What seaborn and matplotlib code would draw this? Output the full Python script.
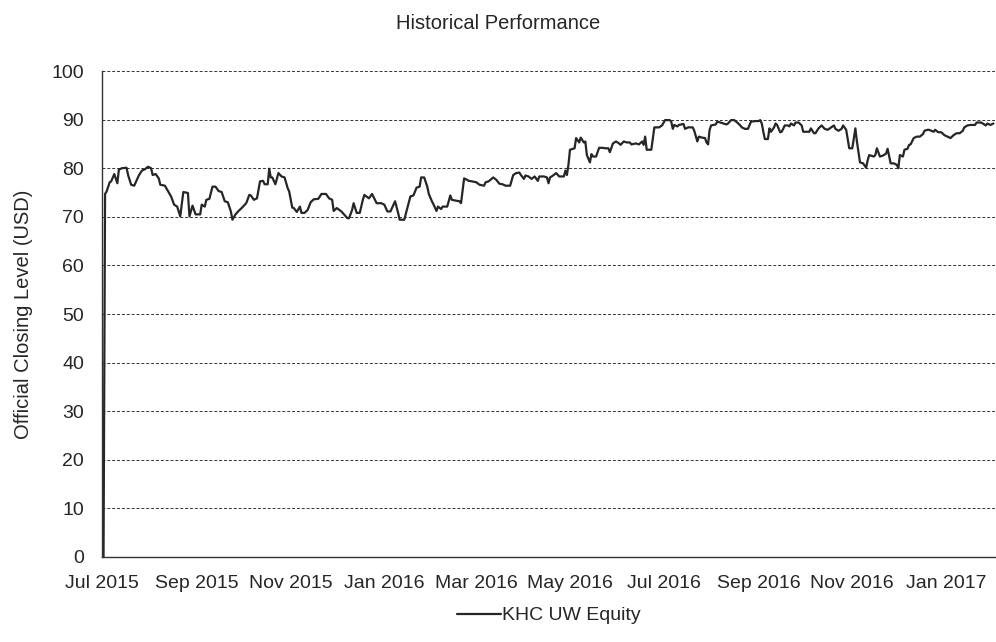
import pandas as pd
import seaborn as sns
import matplotlib.pyplot as plt
import matplotlib.dates as mdates

# days counted from 1 Jul 2015
start_date = "2015-07-01"
day_offsets = [
    1, 2, 3, 5, 6, 8, 10, 11, 13, 16, 17, 19, 21, 23, 24, 26, 28, 30, 32, 33,
    35, 37, 38, 41, 43, 45, 47, 49, 51, 53, 56, 57, 59, 61, 64, 65, 67, 68, 70, 72,
    74, 76, 78, 80, 82, 84, 85, 87, 89, 91, 94, 96, 97, 99, 101, 103, 105, 106, 108, 109,
    110, 111, 113, 115, 117, 119, 121, 122, 124, 125, 127, 129, 130, 132, 134, 136, 138, 141, 143, 146,
    148, 150, 151, 153, 156, 158, 160, 161, 163, 164, 166, 168, 170, 171, 174, 176, 179, 182, 184, 186,
    188, 191, 193, 194, 197, 199, 201, 203, 205, 207, 208, 210, 212, 213, 215, 216, 218, 219, 221, 222,
    225, 227, 228, 231, 233, 234, 236, 238, 239, 241, 244, 246, 249, 250, 252, 255, 257, 259, 261, 263,
    266, 268, 270, 272, 273, 275, 276, 278, 280, 282, 284, 285, 288, 290, 291, 292, 294, 296, 298, 301,
    302, 303, 304, 305, 308, 309, 311, 312, 314, 315, 316, 318, 319, 320, 322, 324, 326, 328, 330, 331,
    333, 335, 337, 338, 340, 342, 344, 345, 348, 350, 352, 353, 354, 355, 358, 360, 363, 365, 367, 368,
    370, 371, 372, 373, 375, 376, 379, 380, 382, 385, 386, 388, 389, 391, 393, 394, 395, 396, 397, 400,
    401, 403, 405, 407, 408, 410, 412, 414, 416, 417, 419, 421, 423, 426, 428, 429, 430, 431, 432, 434,
    435, 436, 438, 439, 440, 442, 443, 445, 447, 448, 449, 451, 452, 454, 456, 457, 459, 461, 462, 464,
    465, 467, 469, 471, 473, 477, 478, 480, 482, 483, 485, 487, 489, 491, 492, 494, 496, 498, 499, 500,
    503, 504, 505, 507, 509, 511, 512, 514, 516, 518, 519, 520, 522, 523, 525, 526, 527, 529, 531, 533,
    535, 536, 538, 539, 542, 543, 545, 547, 549, 551, 553, 555, 557, 559, 561, 562, 564, 566, 569, 570,
    573, 574, 576, 577, 579, 581,
]
khc_close = [
    0.0, 74.7, 75.2, 77.1, 77.3, 78.8, 76.9, 79.7, 80.0, 80.1, 78.6, 76.6, 76.4, 77.8, 78.5, 79.5, 79.8, 80.3, 80.0, 78.6,
    78.8, 77.9, 76.6, 76.4, 75.3, 74.2, 72.5, 72.1, 70.1, 75.1, 74.9, 70.1, 72.3, 70.5, 70.5, 72.5, 72.1, 73.5, 73.7, 76.2,
    76.2, 75.3, 75.1, 73.2, 73.0, 71.1, 69.4, 70.5, 71.2, 71.8, 72.8, 74.5, 74.4, 73.5, 73.8, 77.3, 77.4, 76.7, 76.7, 79.9,
    78.1, 78.1, 76.7, 79.0, 78.3, 78.1, 75.9, 75.2, 71.9, 71.8, 71.0, 72.1, 70.8, 70.8, 71.4, 73.0, 73.6, 73.7, 74.7, 74.7,
    73.8, 73.5, 71.2, 71.8, 71.1, 70.4, 69.7, 69.7, 71.4, 72.8, 70.8, 70.8, 73.5, 74.5, 73.8, 74.7, 72.8, 72.8, 72.5, 71.1,
    71.1, 73.2, 70.8, 69.4, 69.4, 71.8, 74.2, 74.4, 76.0, 76.2, 78.1, 78.1, 76.2, 74.7, 73.2, 72.6, 71.2, 72.1, 71.6, 72.1,
    72.1, 74.4, 73.5, 73.3, 73.2, 72.8, 77.9, 77.6, 77.4, 77.3, 77.1, 76.6, 76.4, 77.1, 77.3, 78.1, 77.6, 76.8, 76.7, 76.4,
    76.4, 78.6, 79.0, 79.1, 78.6, 77.8, 78.5, 78.3, 77.8, 78.3, 77.4, 78.3, 78.3, 78.1, 76.9, 78.1, 78.5, 79.0, 78.3, 78.3,
    79.5, 78.6, 80.7, 83.8, 84.1, 86.2, 85.3, 86.3, 85.3, 85.5, 82.7, 81.2, 82.9, 82.4, 82.4, 84.2, 84.2, 84.1, 84.1, 83.3,
    85.1, 85.5, 85.1, 84.8, 85.5, 85.3, 85.3, 84.9, 85.1, 84.9, 85.5, 84.8, 86.5, 83.8, 83.8, 88.4, 88.4, 88.8, 89.9, 89.9,
    89.9, 89.6, 88.1, 88.9, 88.6, 88.9, 89.1, 88.1, 88.4, 88.4, 87.7, 85.5, 86.5, 86.3, 86.2, 85.3, 84.9, 87.9, 88.8, 89.0,
    89.6, 89.4, 89.2, 89.0, 89.2, 89.9, 89.9, 89.4, 88.8, 88.4, 88.1, 88.1, 89.6, 89.7, 89.7, 89.9, 89.2, 87.5, 86.0, 86.0,
    88.2, 87.5, 88.4, 89.2, 88.9, 87.4, 87.5, 88.8, 88.8, 88.6, 89.2, 88.8, 89.4, 89.4, 88.8, 87.5, 87.5, 87.5, 88.2, 87.2,
    87.2, 88.2, 88.8, 88.1, 87.9, 88.8, 88.1, 87.7, 88.1, 88.8, 87.9, 84.1, 84.1, 88.2, 85.5, 81.2, 81.0, 80.1, 81.6, 82.7,
    82.4, 82.7, 84.1, 82.4, 82.6, 83.0, 84.0, 81.0, 81.0, 80.7, 80.0, 82.7, 82.4, 83.8, 84.0, 84.8, 84.9, 86.2, 86.5, 86.5,
    87.0, 87.7, 87.9, 87.9, 87.5, 87.9, 87.4, 87.4, 86.8, 86.5, 86.2, 86.8, 87.2, 87.2, 87.7, 88.4, 88.8, 88.9, 88.9, 89.4,
    89.4, 89.2, 88.8, 89.2, 88.9, 89.2,
]
series_name = "KHC UW Equity"

df = pd.DataFrame({
    "date": pd.Timestamp(start_date) + pd.to_timedelta(day_offsets, unit="D"),
    "close": khc_close,
})

sns.set_style("white")
plt.rcParams["font.family"] = ["Liberation Sans", "DejaVu Sans"]

text_color = "#262626"
fig = plt.figure(figsize=(9.96, 6.42), dpi=100)
ax = fig.add_axes([0.1024, 0.1324, 0.8966, 0.7570])

sns.lineplot(data=df, x="date", y="close", ax=ax, estimator=None,
             color="#262626", linewidth=1.6, label=series_name, legend=False)

ax.set_ylim(0, 100)
ax.set_yticks(range(0, 101, 10))
ax.set_xlim(pd.Timestamp("2015-07-01"), pd.Timestamp("2017-02-02"))
ax.xaxis.set_major_locator(mdates.MonthLocator(bymonth=[1, 3, 5, 7, 9, 11]))
ax.xaxis.set_major_formatter(mdates.DateFormatter("%b %Y"))

ax.grid(axis="y", linestyle=(0, (3, 2)), color="#333333", linewidth=0.7)
ax.set_axisbelow(True)
for side in ["top", "right"]:
    ax.spines[side].set_visible(False)
for side in ["left", "bottom"]:
    ax.spines[side].set_color("#333333")
    ax.spines[side].set_linewidth(1.0)

ax.tick_params(axis="both", which="major", direction="out", length=5, width=0.8,
               color="#333333", labelsize=14, labelcolor=text_color, pad=8)
ax.set_xlabel("")
ax.set_ylabel("Official Closing Level (USD)", fontsize=14.5, color=text_color, labelpad=13)

fig.suptitle("Historical Performance", x=0.5, y=0.978, fontsize=14.5, color=text_color)

# legend sits under the middle of the plot area
handles, labels = ax.get_legend_handles_labels()
fig.legend(handles, labels, loc="center", bbox_to_anchor=(0.551, 0.041), frameon=False,
           fontsize=14, handlelength=2.3, handletextpad=0.05, labelcolor=text_color)

fig.savefig("out.png", dpi=100)
